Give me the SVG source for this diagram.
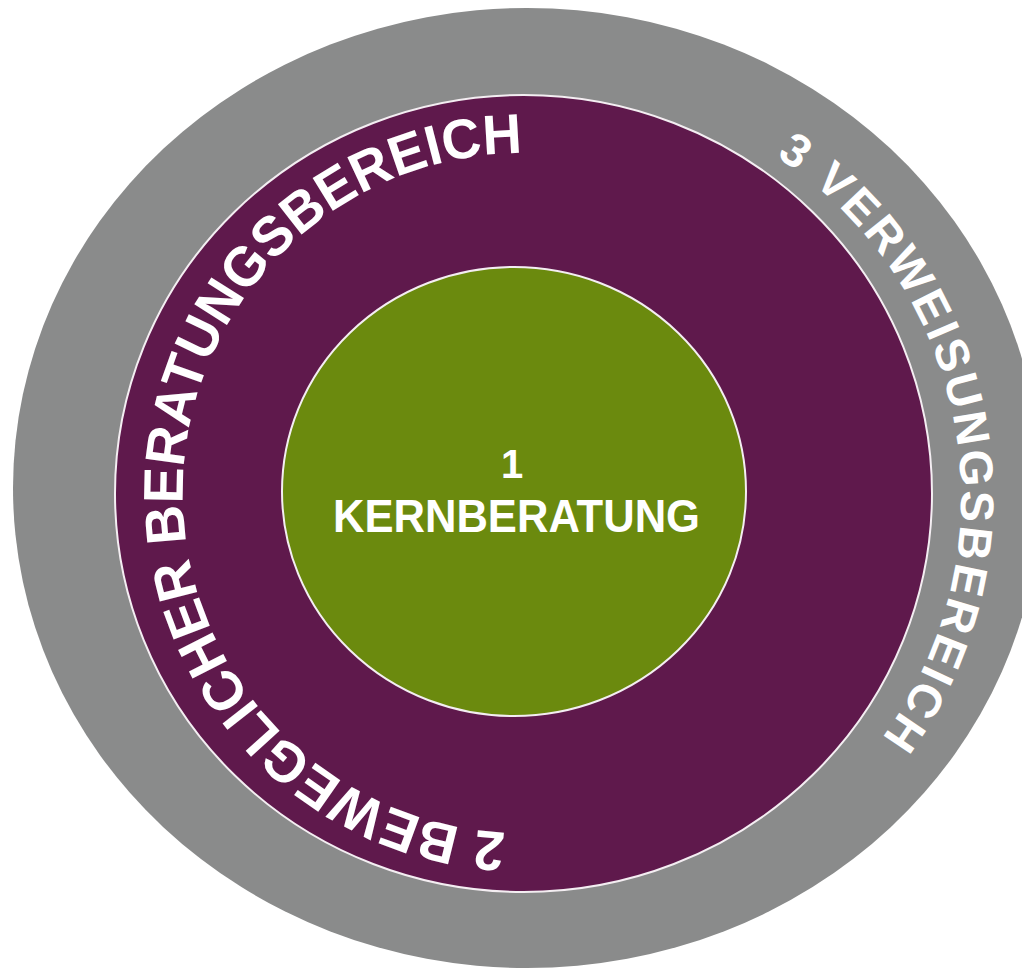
<svg xmlns="http://www.w3.org/2000/svg" width="1022" height="971" viewBox="0 0 1022 971">
<style>
.label{font-family:"Liberation Sans",Arial,Helvetica,sans-serif;fill:#ffffff;font-weight:bold}
.ring{stroke:#f4eef2}
</style>
<defs>
<path id="p2" d="M 552.6 831.7 A 340 340 0 1 1 552.6 154.3"/>
<path id="p3" d="M 693.9 115.5 A 406 406 0 0 1 816 808"/>
</defs>
<rect width="1022" height="971" fill="#ffffff"/>
<g id="ring3">
<ellipse cx="527" cy="488" rx="514" ry="480" fill="#8a8b8b"/>
<text class="label" font-size="47"><textPath href="#p3" startOffset="92" textLength="662" lengthAdjust="spacing">3 VERWEISUNGSBEREICH</textPath></text>
</g>
<g id="ring2">
<ellipse class="ring" cx="523.5" cy="493.5" rx="408.5" ry="398.5" fill="#5f194c" stroke-width="2"/>
<text class="label" font-size="56"><textPath href="#p2" startOffset="47" textLength="1050" lengthAdjust="spacingAndGlyphs">2 BEWEGLICHER BERATUNGSBEREICH</textPath></text>
</g>
<g id="core">
<ellipse class="ring" cx="514" cy="491.5" rx="232" ry="224.5" fill="#6b8a0e" stroke-width="2"/>
<text class="label" x="512" y="478" font-size="40" text-anchor="middle">1</text>
<text class="label" x="516.5" y="532" font-size="46" text-anchor="middle" textLength="367" lengthAdjust="spacingAndGlyphs">KERNBERATUNG</text>
</g>
</svg>
